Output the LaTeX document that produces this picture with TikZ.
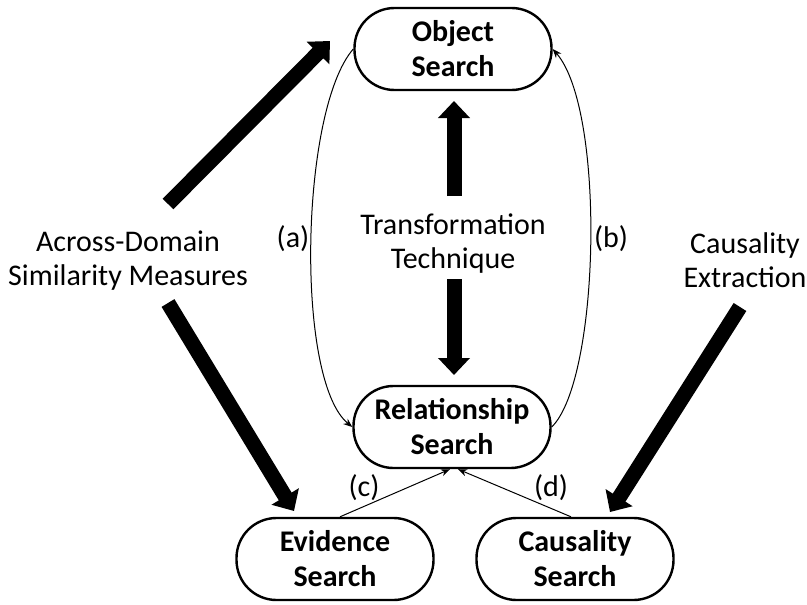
\documentclass[tikz,border=0pt]{standalone}
\usepackage{fontspec}
\setmainfont{Carlito}
\usetikzlibrary{arrows.meta}
\begin{document}
\begin{tikzpicture}[x=1pt,y=-1pt,
  search/.style={draw, line width=2.4pt, rounded corners=40pt,
    minimum width=197pt, minimum height=82pt, inner sep=0pt,
    align=center, font=\fontsize{30}{35}\selectfont\bfseries},
  lbl/.style={align=center, inner sep=0pt, font=\fontsize{30}{34}\selectfont},
  bigarrow/.style={line width=15pt, -{Triangle[width=31pt,length=17pt]}},
  linkarrow/.style={line width=1pt, -{Stealth[length=9pt,width=7pt]}}
]
\useasboundingbox (0,0) rectangle (807,605);

% search stages
\node[search] (obj) at (453,49) {Object\\Search};
\node[search] (rel) at (452,427) {Relationship\\Search};
\node[search] (evi) at (335,559) {Evidence\\Search};
\node[search] (cau) at (575,559) {Causality\\Search};

% technique labels
\node[lbl] (adsm) at (128,261) {Across-Domain\\Similarity Measures};
\node[lbl] (tt) at (453,244) {Transformation\\Technique};
\node[lbl] (ce) at (745,260) {Causality\\Extraction};

% bold arrows from the techniques
\coordinate (a1s) at (168,204);
\coordinate (a1e) at (330,41);
\coordinate (a2s) at (168,303);
\coordinate (a2e) at (294,511);
\coordinate (a3s) at (740,307);
\coordinate (a3e) at (610,512);
\coordinate (tup) at (454,196);
\coordinate (tupe) at (454,101);
\coordinate (tdn) at (454,279);
\coordinate (tdne) at (454,375);
\draw[bigarrow] (a1s) -- (a1e);
\draw[bigarrow] (a2s) -- (a2e);
\draw[bigarrow] (a3s) -- (a3e);
\draw[bigarrow] (tup) -- (tupe);
\draw[bigarrow] (tdn) -- (tdne);

% thin links between the searches
\draw[linkarrow] (obj.west) .. controls (300,110) and (295,380) .. (rel.west);
\draw[linkarrow] (rel.east) .. controls (600,380) and (606,110) .. (obj.east);
\draw[linkarrow] (evi.north) ++(5,0) coordinate (cs) (cs) -- ([xshift=-2pt]rel.south);
\draw[linkarrow] (cau.north) ++(-4,0) coordinate (ds) (ds) -- ([xshift=6pt]rel.south);

% link labels
\node[lbl] (la) at (293,239) {(a)};
\node[lbl] (lb) at (611,239) {(b)};
\node[lbl] (lc) at (364,488) {(c)};
\node[lbl] (ld) at (551,488) {(d)};
\end{tikzpicture}
\end{document}
